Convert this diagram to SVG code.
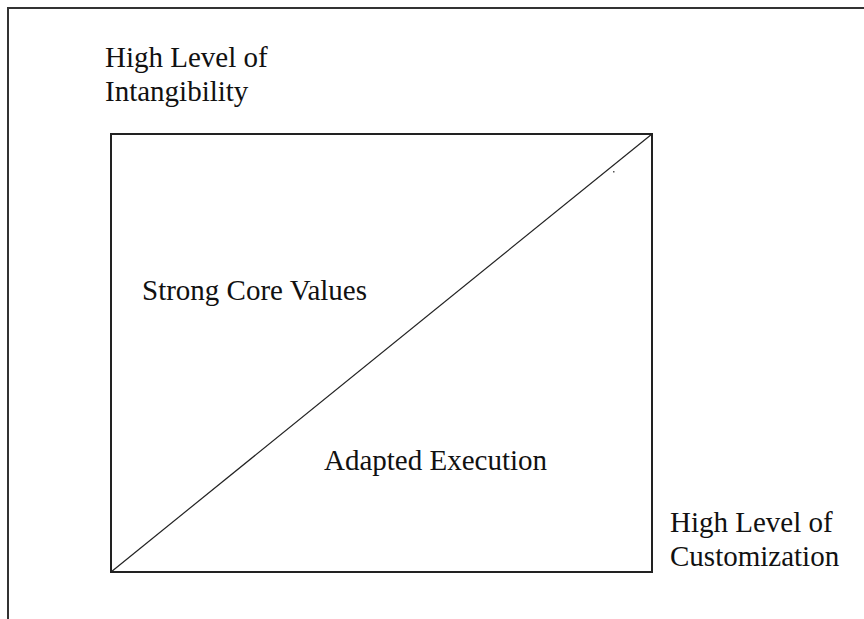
<svg xmlns="http://www.w3.org/2000/svg" width="864" height="619" viewBox="0 0 864 619">
  <style>
    .frame { fill: none; stroke: #333; stroke-width: 2; }
    .box { fill: none; stroke: #222; stroke-width: 2; }
    .diag { stroke: #222; stroke-width: 1.2; fill: none; }
    .label { font-family: "Liberation Serif", "Times New Roman", serif; font-size: 29px; fill: #111; }
  </style>
  <rect width="864" height="619" fill="#fff"/>
  <!-- outer frame, running off the right and bottom edges -->
  <rect class="frame" x="8" y="8" width="900" height="650"/>

  <g id="connectors">
    <line class="diag" x1="111" y1="572" x2="652" y2="134"/>
  </g>

  <g id="matrix">
    <rect class="box" x="111" y="134" width="541" height="438"/>
    <rect x="613" y="171" width="1.5" height="1.5" fill="#555"/>
  </g>

  <g id="axis-intangibility">
    <text class="label" x="105" y="67">High Level of</text>
    <text class="label" x="105" y="101">Intangibility</text>
  </g>

  <g id="axis-customization">
    <text class="label" x="670" y="532">High Level of</text>
    <text class="label" x="670" y="566">Customization</text>
  </g>

  <g id="core-values">
    <text class="label" x="142" y="300">Strong Core Values</text>
  </g>

  <g id="adapted-execution">
    <text class="label" x="324" y="470">Adapted Execution</text>
  </g>
</svg>
